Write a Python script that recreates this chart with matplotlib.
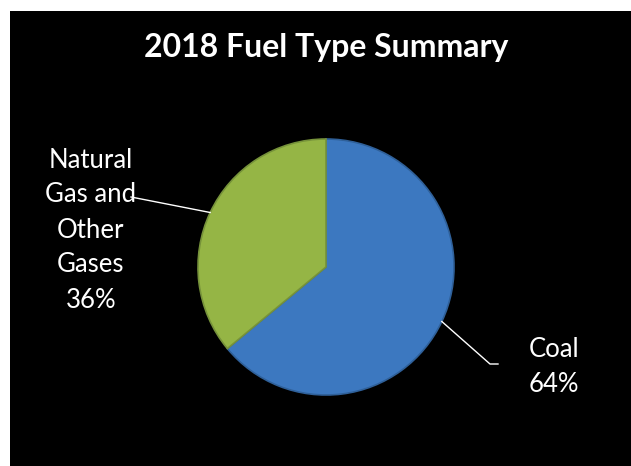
import numpy as np
from matplotlib import pyplot as plt
from matplotlib.patches import Rectangle

plt.rcParams['font.family'] = ['Lato', 'DejaVu Sans']

# data
labels = ['Coal', 'Natural\nGas and\nOther\nGases']
values = [64, 36]
colors = ['#3c78c0', '#95b545']
edges = ['#2f6099', '#76923a']

W, H = 631, 466
fig = plt.figure(figsize=(W / 100, H / 100), dpi=100)
fig.patch.set_facecolor('white')

# black chart area
fig.patches.append(Rectangle((10 / W, 0), 1 - 10 / W, 1 - 11 / H,
                             transform=fig.transFigure, facecolor='black',
                             edgecolor='none', zorder=-5))

fig.text(326 / W, 1 - 47 / H, '2018 Fuel Type Summary', color='white',
         fontsize=23, fontweight='bold', ha='center', va='center')

# pie axes: center (326, 267) px, radius 128 px
cx, cy, r = 326, 267, 128
ax = fig.add_axes([(cx - r) / W, (H - cy - r) / H, 2 * r / W, 2 * r / H])
ax.set_facecolor('none')
ax.set_zorder(2)
wedges, _ = ax.pie(values, colors=colors, startangle=90, counterclock=False,
                   wedgeprops=dict(linewidth=1.2))
for w, ec in zip(wedges, edges):
    w.set_edgecolor(ec)
ax.set_xlim(-1, 1)
ax.set_ylim(-1, 1)
ax.set_aspect('equal')
ax.axis('off')

def px(x, y):
    # figure pixel -> pie data coords
    return (x - cx) / r, (cy - y) / r

# leader lines from wedge middles
mids = [np.deg2rad((w.theta1 + w.theta2) / 2) for w in wedges]
x0, y0 = np.cos(mids[0]), np.sin(mids[0])
ex, ey = px(490, 364)
tx, ty = px(498, 364)
ax.plot([x0, ex, tx], [y0, ey, ty], color='white', lw=1, clip_on=False)

x1, y1 = np.cos(mids[1]), np.sin(mids[1])
gx, gy = px(131, 197)
ax.plot([x1, gx], [y1, gy], color='white', lw=1, clip_on=False)

fig.text(529 / W, 1 - 367 / H, f'{labels[0]}\n{values[0]}%', color='white',
         fontsize=18.5, ha='left', va='center', linespacing=1.5)
fig.text(91 / W, 1 - 230 / H, f'{labels[1]}\n{values[1]}%', color='white',
         fontsize=18.5, ha='center', va='center', linespacing=1.5,
         multialignment='center')

fig.savefig('out.png', dpi=100)
